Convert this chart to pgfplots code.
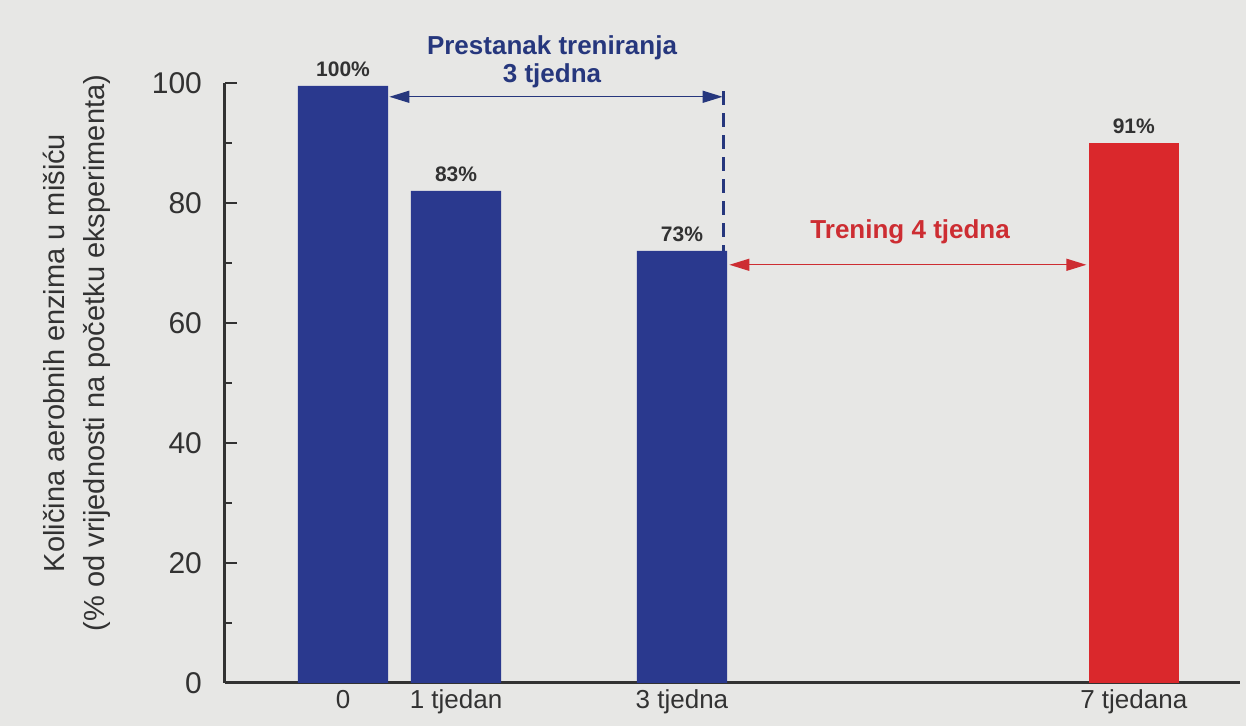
\documentclass[border=0pt]{standalone}
\usepackage{fontspec}
\setmainfont{Liberation Sans}
\usepackage{pgfplots}
\pgfplotsset{compat=1.18}
\usetikzlibrary{arrows.meta}
\definecolor{barblue}{RGB}{42,57,142}
\definecolor{barred}{RGB}{218,40,44}
\definecolor{txtblue}{RGB}{38,55,125}
\definecolor{txtred}{RGB}{205,45,50}
\definecolor{axgray}{RGB}{50,50,50}
\definecolor{paper}{RGB}{231,231,229}
\begin{document}
\begin{tikzpicture}
\fill[paper] (-112.5pt,-21.5pt) rectangle (510.5pt,341.5pt);
\begin{axis}[
  at={(0pt,0pt)}, anchor=south west,
  scale only axis, width=507.5pt, height=300pt,
  xmin=-1.045, xmax=7.94, ymin=0, ymax=100,
  clip=false,
  axis x line=bottom, axis y line=left,
  axis line style={-, line width=1.5pt, axgray},
  ytick={0,20,...,100}, minor ytick={10,30,...,90},
  tick align=inside,
  major tick length=6pt, minor tick length=3.5pt,
  ytick style={line width=1.4pt, axgray},
  minor tick style={line width=1.4pt, axgray},
  xtick={0,1,3,7},
  xticklabels={0, 1 tjedan, 3 tjedna, 7 tjedana},
  xtick style={draw=none},
  /pgf/number format/assume math mode=true,
  yticklabel style={font=\fontsize{15}{17}\selectfont, text=axgray, xshift=-8pt},
  xticklabel style={font=\fontsize{13}{15}\selectfont, text=axgray},
  ylabel={Količina aerobnih enzima u mišiću\\(\% od vrijednosti na početku eksperimenta)},
  ylabel style={align=center, font=\fontsize{14.5}{20}\selectfont, text=axgray, at={(ticklabel cs:0.55,14pt)}},
]
\addplot[ybar, bar width=0.8, fill=barblue, draw=none, bar shift=0pt,
  nodes near coords, point meta=explicit symbolic,
  nodes near coords style={font=\bfseries\fontsize{10.5}{12}\selectfont, text=axgray, yshift=1pt}]
  coordinates {(0,99.5)[100\%] (1,82)[83\%] (3,72)[73\%]};
\addplot[ybar, bar width=0.8, fill=barred, draw=none, bar shift=0pt,
  nodes near coords, point meta=explicit symbolic,
  nodes near coords style={font=\bfseries\fontsize{10.5}{12}\selectfont, text=axgray, yshift=1pt}]
  coordinates {(7,90)[91\%]};
% blue annotation
\draw[txtblue, line width=0.7pt, {Triangle[length=10pt,width=6pt]}-{Triangle[length=10pt,width=6pt]}]
  (axis cs:0.41,97.7) -- (axis cs:3.36,97.7);
\draw[txtblue, line width=1.4pt, dash pattern=on 7pt off 4pt] (axis cs:3.37,98.6) -- (axis cs:3.37,72);
\node[txtblue, font=\bfseries\fontsize{13}{14}\selectfont, align=center] at (axis cs:1.85,103.6) {Prestanak treniranja\\3 tjedna};
% red annotation
\draw[txtred, line width=0.7pt, {Triangle[length=10pt,width=6pt]}-{Triangle[length=10pt,width=6pt]}]
  (axis cs:3.42,69.7) -- (axis cs:6.58,69.7);
\node[txtred, font=\bfseries\fontsize{13}{14}\selectfont] at (axis cs:5.02,75.2) {Trening 4 tjedna};
\end{axis}
\end{tikzpicture}
\end{document}
